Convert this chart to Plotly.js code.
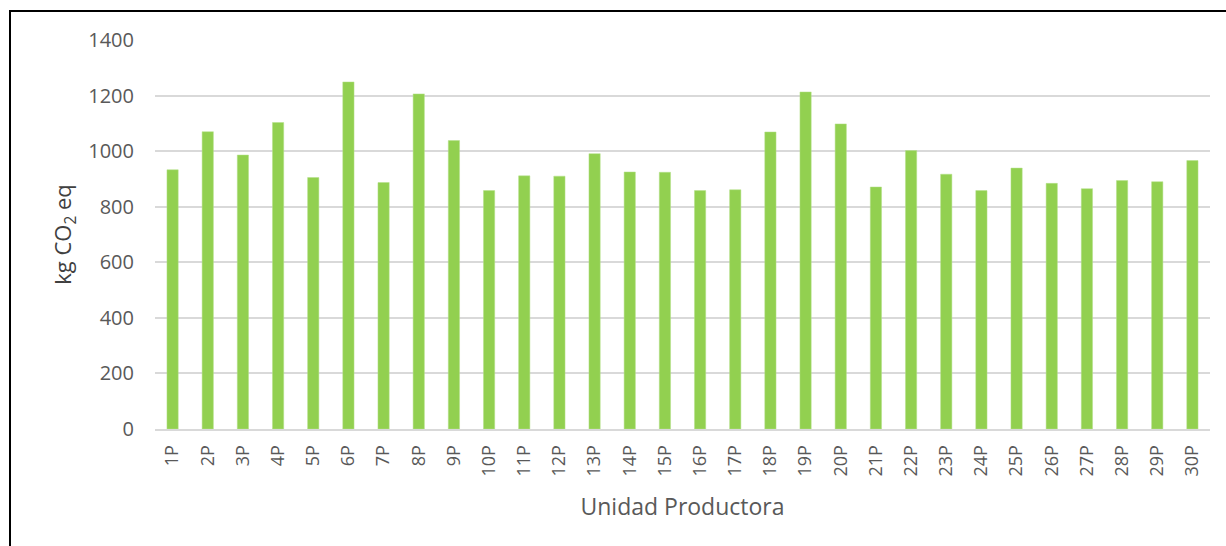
<!DOCTYPE html>
<html>
<head>
<meta charset="utf-8">
<script src="https://cdn.plot.ly/plotly-3.0.1.min.js"></script>
<style>
  html, body { margin: 0; padding: 0; background: #fff; overflow: hidden; }
  #frame { position: absolute; left: 9px; top: 10px; width: 1400px; height: 800px; border: 2px solid #000; box-sizing: border-box; }
  #chart { position: absolute; left: 0; top: 0; width: 1226px; height: 546px; }
</style>
</head>
<body>
<div id="frame"></div>
<div id="chart"></div>
<script>
const categories = ["1P","2P","3P","4P","5P","6P","7P","8P","9P","10P","11P","12P","13P","14P","15P","16P","17P","18P","19P","20P","21P","22P","23P","24P","25P","26P","27P","28P","29P","30P"];
const emissions = [933,1070,986,1103,905,1249,887,1206,1038,858,911,910,991,925,924,858,861,1069,1213,1098,871,1002,917,858,939,884,865,894,890,966];
const yTicks = [0,200,400,600,800,1000,1200,1400];

const fontFam = "'Open Sans', 'Noto Sans', sans-serif";
const trace = {
  type: 'bar',
  x: categories,
  y: emissions,
  marker: { color: '#92d050', line: { color: '#b4e08a', width: 0.5 } },
  hoverinfo: 'x+y'
};
const layout = {
  width: 1226, height: 546,
  margin: { l: 155, r: 16, t: 40, b: 117 },
  paper_bgcolor: 'rgba(0,0,0,0)',
  plot_bgcolor: 'rgba(0,0,0,0)',
  bargap: 0.68,
  showlegend: false,
  font: { family: fontFam, color: '#595959' },
  xaxis: {
    type: 'category',
    tickangle: -90,
    tickfont: { size: 18, color: '#595959', family: fontFam },
    ticklabelstandoff: 7,
    showgrid: false,
    showline: true, linecolor: '#d9d9d9', linewidth: 2,
    ticks: '',
    title: { text: 'Unidad Productora', font: { size: 23, color: '#595959', family: fontFam }, standoff: 23 }
  },
  yaxis: {
    range: [0, 1400],
    tickvals: yTicks,
    ticktext: yTicks.map(String),
    tickfont: { size: 20, color: '#595959', family: fontFam },
    ticklabelstandoff: 20,
    showgrid: true, gridcolor: '#d9d9d9', gridwidth: 2,
    zeroline: false,
    ticks: '', ticklen: 0,
    title: { text: 'kg CO<sub>2</sub> eq', font: { size: 22, color: '#404040', family: fontFam }, standoff: 10 }
  }
};
Plotly.newPlot('chart', [trace], layout, { displayModeBar: false, staticPlot: true });
</script>
</body>
</html>
